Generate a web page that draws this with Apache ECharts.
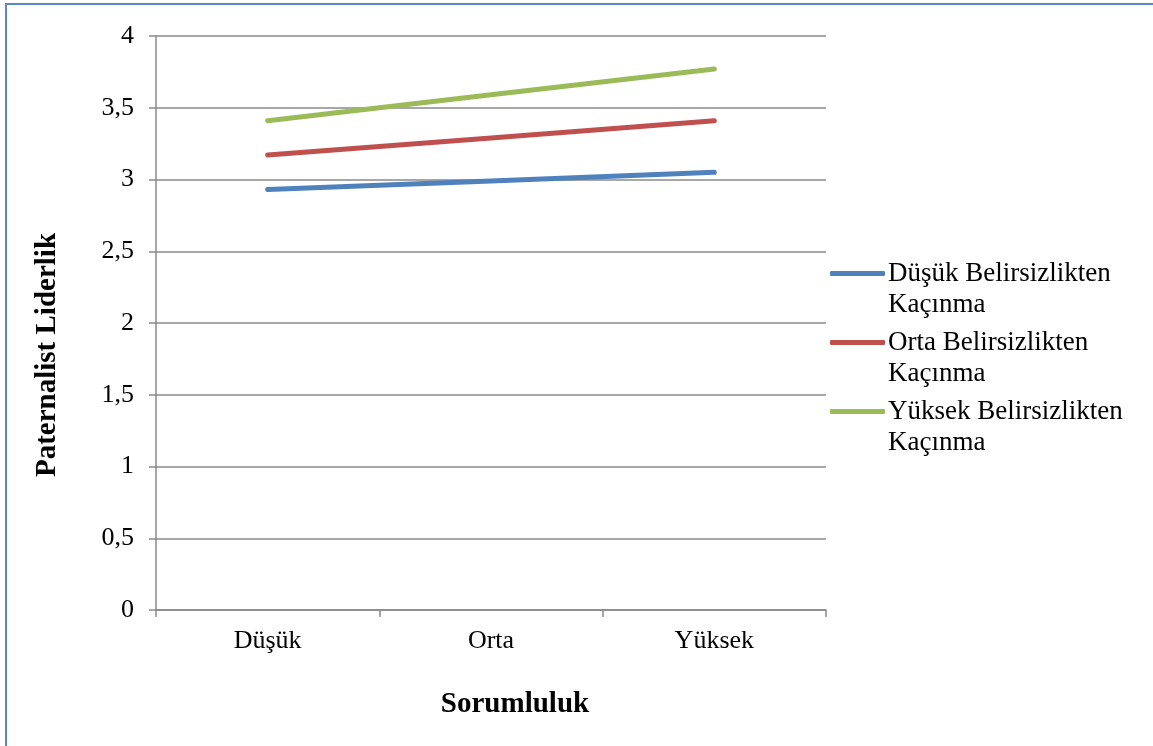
<!DOCTYPE html>
<html>
<head>
<meta charset="utf-8">
<script src="https://cdn.jsdelivr.net/npm/echarts@6/dist/echarts.min.js"></script>
<style>
  html, body { margin: 0; padding: 0; background: #fff; }
  #chart { position: absolute; left: 0; top: 0; width: 1153px; height: 746px; }
  #frame { position: absolute; left: 5px; top: 3px; right: -10px; bottom: -10px;
           border-left: 2px solid #5b88c2; border-top: 2px solid #5b88c2; pointer-events: none; }
</style>
</head>
<body>
<div id="chart"></div>
<div id="frame"></div>
<script>
// Sorumluluk levels on the x axis
const categories = ['Düşük', 'Orta', 'Yüksek'];

// Paternalist Liderlik by uncertainty-avoidance group
const dusukValues = [2.93, 2.99, 3.05];
const ortaValues = [3.17, 3.29, 3.41];
const yuksekValues = [3.41, 3.59, 3.77];

const seriesNames = [
  'Düşük Belirsizlikten Kaçınma',
  'Orta Belirsizlikten Kaçınma',
  'Yüksek Belirsizlikten Kaçınma'
];
const seriesColors = ['#4f81bd', '#c0504d', '#9bbb59'];

const font = '"Liberation Serif", "Times New Roman", serif';
const gridColor = '#8a8a8a';

const chart = echarts.init(document.getElementById('chart'), null, { renderer: 'canvas' });

const makeSeries = (name, data, color) => ({
  name: name,
  type: 'line',
  data: data,
  showSymbol: false,
  symbol: 'none',
  lineStyle: { color: color, width: 5, cap: 'round' },
  itemStyle: { color: color },
  animation: false
});

chart.setOption({
  backgroundColor: '#fff',
  animation: false,
  grid: { left: 156, right: 327, top: 36, bottom: 136, containLabel: false },
  legend: {
    orient: 'vertical',
    left: 830,
    top: 227,
    padding: 0,
    itemGap: -24,
    itemWidth: 55,
    itemHeight: 5,
    icon: 'roundRect',
    data: seriesNames,
    formatter: function (name) {
      // last word on its own line; leading blank line keeps the icon level with the first line
      const cut = name.lastIndexOf(' ');
      return '\n' + name.slice(0, cut) + '\n' + name.slice(cut + 1);
    },
    textStyle: { fontFamily: font, fontSize: 27, color: '#000', lineHeight: 31, padding: [0, 0, 0, -2] }
  },
  xAxis: {
    type: 'category',
    data: categories,
    boundaryGap: true,
    name: 'Sorumluluk',
    nameLocation: 'middle',
    nameGap: 80,
    nameTextStyle: { fontFamily: font, fontSize: 29, fontWeight: 'bold', color: '#000', padding: [0, 0, 0, 48] },
    axisLine: { lineStyle: { color: gridColor, width: 1.5 } },
    axisTick: { show: true, length: 7, inside: false, lineStyle: { color: gridColor, width: 1.5 } },
    axisLabel: { fontFamily: font, fontSize: 26, color: '#000', margin: 18 },
    splitLine: { show: false }
  },
  yAxis: {
    type: 'value',
    min: 0,
    max: 4,
    interval: 0.5,
    name: 'Paternalist Liderlik',
    nameLocation: 'middle',
    nameGap: 94,
    nameRotate: 90,
    nameTextStyle: { fontFamily: font, fontSize: 29, fontWeight: 'bold', color: '#000', padding: [0, 64, 0, 0] },
    axisLine: { show: true, lineStyle: { color: gridColor, width: 1.5 } },
    axisTick: { show: true, length: 7, lineStyle: { color: gridColor, width: 1.5 } },
    axisLabel: {
      fontFamily: font, fontSize: 26, color: '#000', margin: 22,
      formatter: v => String(v).replace('.', ',')
    },
    splitLine: { show: true, lineStyle: { color: gridColor, width: 1.5 } }
  },
  series: [
    makeSeries(seriesNames[0], dusukValues, seriesColors[0]),
    makeSeries(seriesNames[1], ortaValues, seriesColors[1]),
    makeSeries(seriesNames[2], yuksekValues, seriesColors[2])
  ]
});
</script>
</body>
</html>
